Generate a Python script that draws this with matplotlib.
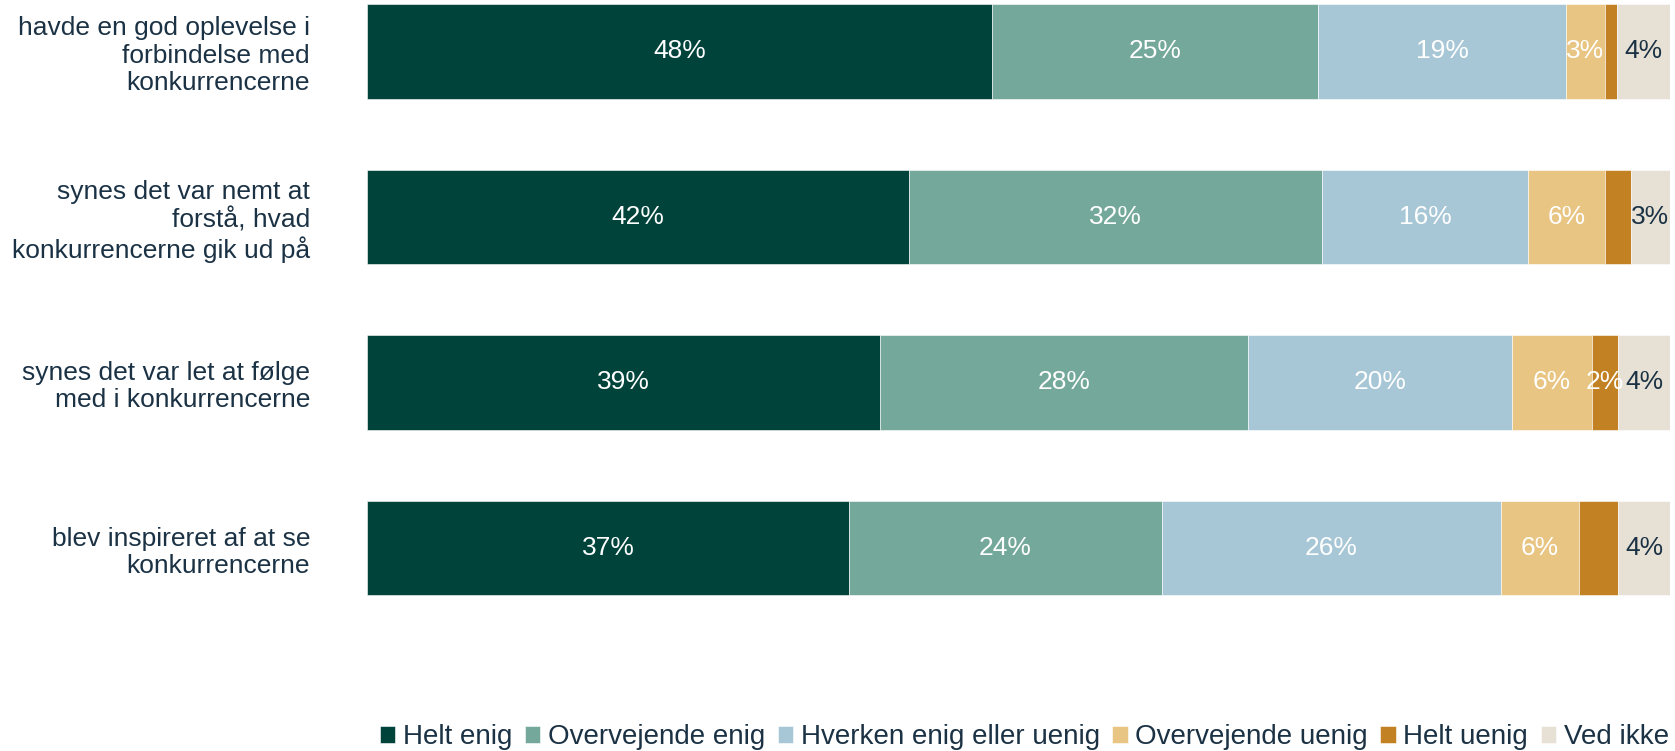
import numpy as np
import matplotlib
matplotlib.use('Agg')
import matplotlib.pyplot as plt

plt.rcParams['font.family'] = ['Liberation Sans', 'DejaVu Sans']

# statements (top to bottom)
statements = [
    'havde en god oplevelse i\nforbindelse med\nkonkurrencerne',
    'synes det var nemt at\nforstå, hvad\nkonkurrencerne gik ud på',
    'synes det var let at følge\nmed i konkurrencerne',
    'blev inspireret af at se\nkonkurrencerne',
]

series = ['Helt enig', 'Overvejende enig', 'Hverken enig eller uenig',
          'Overvejende uenig', 'Helt uenig', 'Ved ikke']

# percent per statement, one list per answer category
helt_enig = [48.0, 41.6, 39.4, 37.0]
overvejende_enig = [25.0, 31.7, 28.2, 24.0]
hverken = [19.0, 15.8, 20.3, 26.0]
overvejende_uenig = [3.0, 5.9, 6.1, 6.0]
helt_uenig = [0.9, 2.0, 2.0, 3.0]
ved_ikke = [4.1, 3.0, 4.0, 4.0]

# labels that the original leaves out: (row, series index)
hidden_labels = {(0, 4), (1, 4), (3, 4)}

colors = ['#00433A', '#73A89A', '#A8C7D6', '#E8C582', '#C28123', '#E7E1D5']
label_colors = ['white', 'white', 'white', 'white', 'white', '#1B3245']
navy = '#1B3245'

data = [helt_enig, overvejende_enig, hverken, overvejende_uenig, helt_uenig, ved_ikke]

fig = plt.figure(figsize=(16.75, 7.51), dpi=100)
ax = fig.add_axes([367 / 1675, 1 - 620 / 751, 1303 / 1675, 620 / 751])

y = np.arange(len(statements))
left = np.zeros(len(statements))
for i, (name, vals) in enumerate(zip(series, data)):
    vals = np.array(vals)
    bars = ax.barh(y, vals, left=left, height=0.57, color=colors[i],
                   edgecolor='white', linewidth=0.4, label=name)
    for r, b in enumerate(bars):
        if (r, i) in hidden_labels:
            continue
        ax.text(left[r] + vals[r] / 2, y[r], f'{vals[r]:.0f}%',
                ha='center', va='center', fontsize=19, color=label_colors[i])
    left += vals

ax.set_xlim(0, 100)
ax.set_ylim(3.435, -0.311)
ax.set_yticks(y)
ax.set_yticklabels(statements, fontsize=19, color=navy, linespacing=1.17)
ax.tick_params(axis='y', length=0, pad=41)
ax.set_xticks([])
for s in ax.spines.values():
    s.set_visible(False)

fig.legend(loc='lower right', bbox_to_anchor=(1.003, -0.014), ncol=6, frameon=False,
           fontsize=20, handlelength=0.55, handleheight=0.55, handletextpad=0.28,
           columnspacing=0.45, borderaxespad=0, labelcolor=navy)

fig.savefig('out.png', dpi=100)
